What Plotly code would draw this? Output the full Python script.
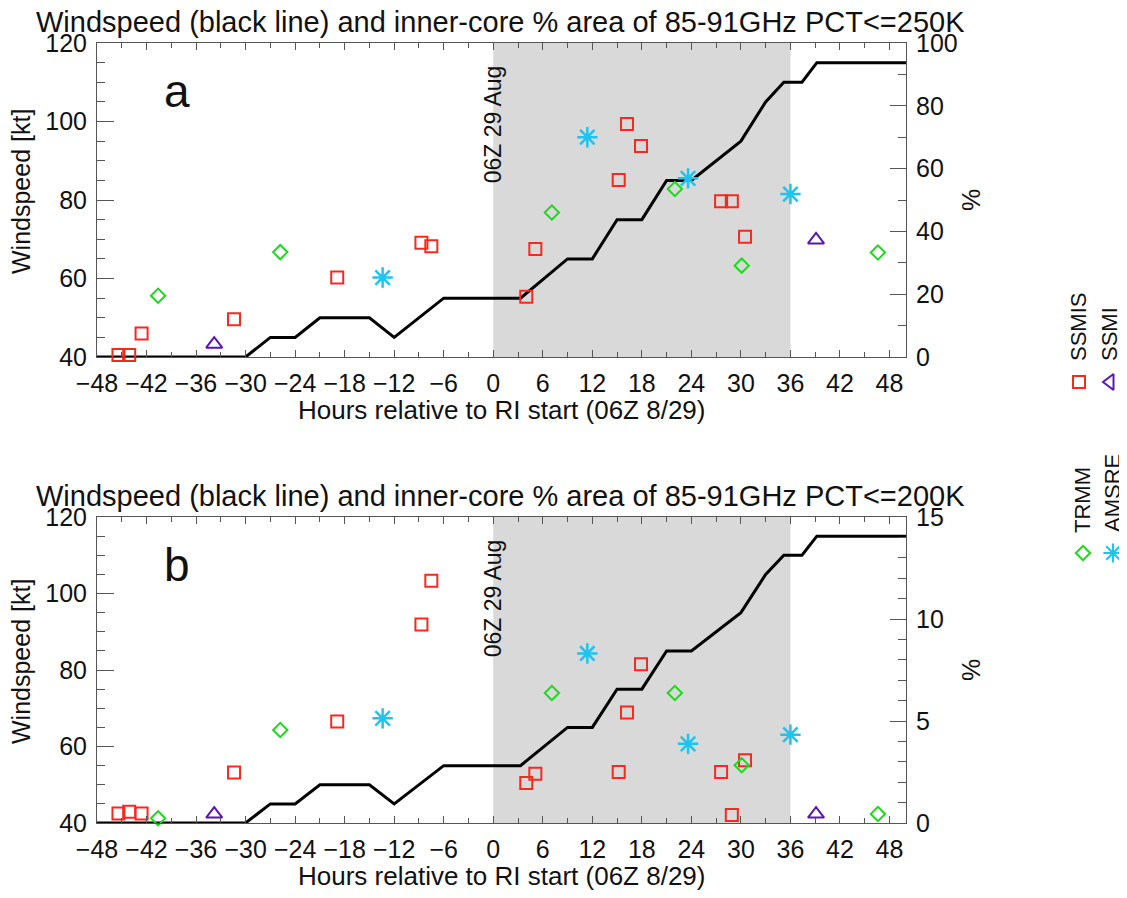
import plotly.graph_objects as go

# page body has an 8px margin: the figure is sized so that it fills the window
OFF = 8
WIN_W, WIN_H = 1127, 898
W, H = WIN_W - OFF, WIN_H - OFF

# ---------------- data ----------------
wind_hours = [-48, -30, -27, -24, -21, -15, -12, -6, 3.3, 9, 12, 15, 18, 21, 24, 30, 33, 35.2, 37.4, 39.2, 50]
wind_kt = [40, 40, 45, 45, 50, 50, 45, 55, 55, 65, 65, 75, 75, 85, 85, 95, 105, 110, 110, 115, 115]

ssmis_hours = [-45.4, -44.1, -42.6, -31.4, -18.9, -8.7, -7.5, 4.0, 5.1, 15.2, 16.2, 17.9, 27.6, 28.9, 30.5]
ssmis_a = [0.6, 0.6, 7.5, 12.0, 25.3, 36.4, 35.3, 19.2, 34.4, 56.4, 74.2, 67.2, 49.6, 49.6, 38.3]
ssmis_b = [0.47, 0.55, 0.47, 2.47, 4.98, 9.73, 11.87, 1.96, 2.42, 2.5, 5.42, 7.78, 2.5, 0.39, 3.07]

trmm_hours = [-40.6, -25.8, 7.1, 22.0, 30.1, 46.6]
trmm_a = [19.5, 33.4, 46.0, 53.5, 29.1, 33.3]
trmm_b = [0.23, 4.56, 6.37, 6.37, 2.83, 0.44]

amsre_hours = [-13.4, 11.4, 23.6, 36.0]
amsre_a = [25.3, 70.0, 56.9, 51.9]
amsre_b = [5.13, 8.31, 3.88, 4.33]

ssmi_hours = [-33.8, 39.1]
ssmi_a = [4.1, 37.3]
ssmi_b = [0.44, 0.44]

ri_window = [0, 36]
x_ticks = list(range(-48, 49, 6))
titles = ["Windspeed (black line) and inner-core % area of 85-91GHz PCT<=250K",
          "Windspeed (black line) and inner-core % area of 85-91GHz PCT<=200K"]
panel_labels = ["a", "b"]
xlabel = "Hours relative to RI start (06Z 8/29)"
ylabel = "Windspeed [kt]"
date_label = "06Z 29 Aug"

# ---------------- styles ----------------
FONT = "Liberation Sans, Arial, sans-serif"
RED, GREEN, CYAN, PURPLE = "#f52a1e", "#1ed81e", "#1ec4f0", "#5a16b0"
GRAY = "#d9d9d9"
FRAME = "#555555"


def px(x):
    return (x - OFF) / W


def py(y):
    return 1 - (y - OFF) / H


# panel pixel boxes in window pixels (left, right, top, bottom)
panels = [dict(l=97, r=906, t=43, b=357, pmax=100, pmaj=20, pmin=10),
          dict(l=97, r=906, t=517, b=823, pmax=15, pmaj=5, pmin=1)]
pct_sets = [
    (ssmis_a, trmm_a, amsre_a, ssmi_a),
    (ssmis_b, trmm_b, amsre_b, ssmi_b),
]

fig = go.Figure()
layout = dict(
    width=W, height=H, margin=dict(l=0, r=0, t=0, b=0, autoexpand=False),
    paper_bgcolor="white", plot_bgcolor="rgba(0,0,0,0)",
    showlegend=False, font=dict(family=FONT, size=25, color="#111"),
)
annotations = []
shapes = []

for i, p in enumerate(panels):
    xa = "x" if i == 0 else "x2"
    ya_left = "y" if i == 0 else "y3"
    ya_right = "y2" if i == 0 else "y4"
    xkey = "xaxis" if i == 0 else "xaxis2"
    ylkey = "yaxis" if i == 0 else "yaxis3"
    yrkey = "yaxis2" if i == 0 else "yaxis4"

    layout[xkey] = dict(
        domain=[px(p["l"]), px(p["r"])], anchor=ya_left, range=[-48, 50],
        tickvals=x_ticks, ticks="inside", ticklen=7, tickcolor=FRAME,
        minor=dict(dtick=3, tick0=-48, ticks="inside", ticklen=5, tickcolor=FRAME),
        showline=True, linecolor=FRAME, linewidth=1, mirror="ticks",
        showgrid=False, zeroline=False, tickfont=dict(size=25),
        ticklabelstandoff=4, automargin=False,
    )
    layout[ylkey] = dict(
        domain=[py(p["b"]), py(p["t"])], anchor=xa, range=[40, 120],
        tickvals=[40, 60, 80, 100, 120], ticks="inside", ticklen=17, tickcolor=FRAME,
        minor=dict(dtick=5, tick0=40, ticks="inside", ticklen=8, tickcolor=FRAME),
        showline=True, linecolor=FRAME, linewidth=1,
        showgrid=False, zeroline=False, tickfont=dict(size=25),
        ticklabelstandoff=4, automargin=False,
    )
    layout[yrkey] = dict(
        overlaying=ya_left, anchor=xa, side="right", range=[0, p["pmax"]],
        tickvals=list(range(0, p["pmax"] + 1, p["pmaj"])),
        ticks="inside", ticklen=16, tickcolor=FRAME,
        minor=dict(dtick=p["pmin"], tick0=0, ticks="inside", ticklen=8, tickcolor=FRAME),
        showline=True, linecolor=FRAME, linewidth=1,
        showgrid=False, zeroline=False, tickfont=dict(size=25),
        ticklabelstandoff=4, automargin=False,
    )

    # RI shading
    shapes.append(dict(type="rect", xref=xa, yref=f"{ya_left} domain",
                       x0=ri_window[0], x1=ri_window[1], y0=0, y1=1,
                       fillcolor=GRAY, line=dict(width=0), layer="below"))

    # windspeed line
    fig.add_trace(go.Scatter(x=wind_hours, y=wind_kt, mode="lines", xaxis=xa, yaxis=ya_left,
                             line=dict(color="black", width=3), cliponaxis=False))

    s_vals, t_vals, a_vals, m_vals = pct_sets[i]
    fig.add_trace(go.Scatter(x=ssmis_hours, y=s_vals, mode="markers", xaxis=xa, yaxis=ya_right,
                             marker=dict(symbol="square-open", size=12, color=RED,
                                         line=dict(width=2, color=RED)), cliponaxis=False))
    fig.add_trace(go.Scatter(x=trmm_hours, y=t_vals, mode="markers", xaxis=xa, yaxis=ya_right,
                             marker=dict(symbol="diamond-open", size=11, color=GREEN,
                                         line=dict(width=2, color=GREEN)), cliponaxis=False))
    fig.add_trace(go.Scatter(x=amsre_hours, y=a_vals, mode="markers", xaxis=xa, yaxis=ya_right,
                             marker=dict(symbol="asterisk-open", size=17, color=CYAN,
                                         line=dict(width=2.5, color=CYAN)), cliponaxis=False))
    fig.add_trace(go.Scatter(x=ssmi_hours, y=m_vals, mode="markers", xaxis=xa, yaxis=ya_right,
                             marker=dict(symbol="triangle-up-open", size=14, color=PURPLE,
                                         line=dict(width=2, color=PURPLE)), cliponaxis=False))

    # titles and labels
    annotations.append(dict(text=titles[i], xref="paper", yref="paper",
                            x=px(500), y=py(p["t"] - 21), xanchor="center", yanchor="middle",
                            showarrow=False, font=dict(size=29), borderpad=0))
    annotations.append(dict(text=xlabel, xref="paper", yref="paper",
                            x=px(501), y=py(p["b"] + 53), xanchor="center", yanchor="middle",
                            showarrow=False, font=dict(size=26)))
    annotations.append(dict(text=ylabel, xref="paper", yref="paper", textangle=-90,
                            x=px(21), y=py((p["t"] + p["b"]) / 2 - 8), xanchor="center", yanchor="middle",
                            showarrow=False, font=dict(size=25)))
    annotations.append(dict(text="%", xref="paper", yref="paper", textangle=-90,
                            x=px(971), y=py((p["t"] + p["b"]) / 2), xanchor="center", yanchor="middle",
                            showarrow=False, font=dict(size=25)))
    annotations.append(dict(text=panel_labels[i], xref="paper", yref="paper",
                            x=px(177), y=py(p["t"] + 48), xanchor="center", yanchor="middle",
                            showarrow=False, font=dict(size=46)))
    annotations.append(dict(text=date_label, xref=xa, yref="paper", textangle=-90,
                            x=0, y=py(p["t"] + 81), xanchor="center", yanchor="middle",
                            showarrow=False, font=dict(size=23)))

# ---------------- legend (rotated, right side) ----------------
leg_items = [
    ("SSMIS", "square-open", RED, 12, 1079, 382, 1078, 327),
    ("SSMI", "triangle-left-open", PURPLE, 14, 1110, 382, 1109, 334),
    ("TRMM", "diamond-open", GREEN, 11, 1083, 553, 1082, 500),
    ("AMSRE", "asterisk-open", CYAN, 16, 1113, 553, 1112, 493),
]
layout["xaxis3"] = dict(domain=[px(1040), 1], range=[1040, 1127], visible=False, anchor="y5")
layout["yaxis5"] = dict(domain=[py(620), py(250)], range=[620, 250], visible=False, anchor="x3")
for name, sym, col, sz, mx, my, tx, ty in leg_items:
    fig.add_trace(go.Scatter(x=[mx], y=[my], mode="markers", xaxis="x3", yaxis="y5",
                             marker=dict(symbol=sym, size=sz, color=col, line=dict(width=2, color=col)),
                             cliponaxis=False))
    annotations.append(dict(text=name, xref="paper", yref="paper", textangle=-90,
                            x=px(tx), y=py(ty), xanchor="center", yanchor="middle",
                            showarrow=False, font=dict(size=22)))

layout["annotations"] = annotations
layout["shapes"] = shapes
fig.update_layout(**layout)
fig.write_html("out.html")
